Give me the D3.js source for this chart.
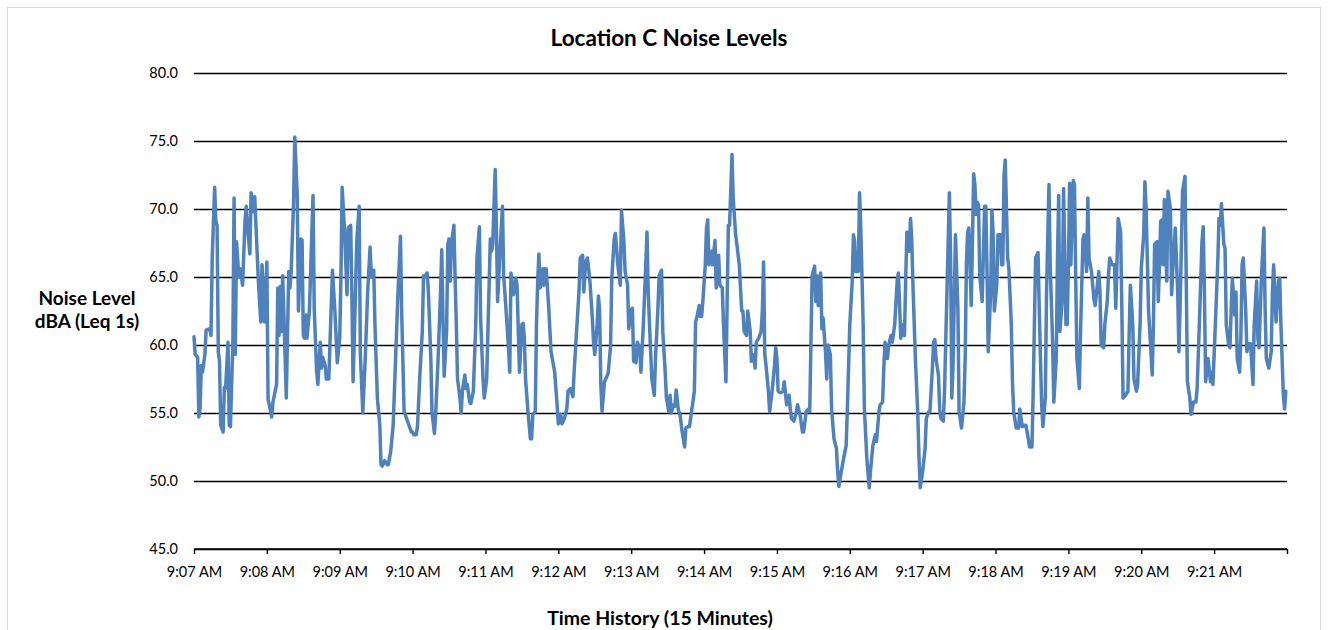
<!DOCTYPE html>
<html>
<head>
<meta charset="utf-8">
<script src="https://cdn.jsdelivr.net/npm/d3@7/dist/d3.min.js"></script>
<style>
  body { margin: 0; background: #fff; }
  svg { display: block; }
  text { font-family: Lato, "Open Sans", sans-serif; fill: #000; }
</style>
</head>
<body>
<svg id="chart" width="1328" height="630"></svg>
<script>
/*-------------------- Data --------------------*/
// [seconds after 9:07:00, dBA (Leq 1s)]

var trace0708 = [[0,60.6],[1,59.3],[3,59.1],[4,54.7],[5,55.3],[6,58.5],[7,58.0],[9,59.3],[10,61.1],[13,61.2],[14,60.7],[15,66.4],[17,71.6],[18,69.1],[19,68.8],[20,59.5],[21,58.8],[22,54.1],[24,53.6],[25,56.9],[26,56.8],[28,60.2],[29,54.1],[30,54.0],[32,60.2],[33,70.8],[34,59.3],[35,67.6],[37,65.0],[38,65.6],[40,64.4],[42,69.1],[43,70.2],[44,68.8],[46,66.7],[47,71.2],[49,69.8],[50,70.9],[53,64.7],[55,61.7],[56,65.9],[58,61.7],[60,66.1],[61,56.0],[62,55.6],[64,54.7],[65,55.8],[68,57.1],[69,64.2],[70,60.7],[71,64.3],[72,61.0],[73,65.1],[74,62.3],[76,56.1],[78,65.4],[79,64.2],[80,65.4],[82,70.5],[83,75.3],[85,71.0],[86,62.5],[88,67.8]];

var trace0809 = [[89,67.7],[90,60.7],[91,60.5],[92,62.2],[93,60.5],[95,62.5],[98,71.0],[99,62.7],[101,58.0],[102,57.1],[104,60.2],[105,58.3],[106,59.1],[108,58.5],[109,57.5],[111,57.5],[112,60.2],[114,65.5],[116,62.5],[118,58.7],[120,60.5],[121,65.1],[122,71.6],[124,68.3],[126,63.7],[127,68.6],[129,68.8],[130,63.7],[131,57.3],[133,63.9],[134,67.6],[136,70.2],[137,59.3],[139,55.0],[141,59.0],[143,63.9],[145,67.2],[146,65.0],[148,65.5],[149,61.5],[151,56.1],[153,54.1],[154,51.2],[155,51.1],[157,51.5],[159,51.2],[160,51.2],[162,52.2],[164,54.1],[166,59.0],[168,63.9],[170,68.0],[171,62.5],[173,55.1],[175,54.6],[177,54.1],[179,53.6]];

var trace0910 = [[180,53.6],[181,53.4],[183,53.4],[184,54.0],[186,57.8],[188,61.0],[189,65.1],[190,65.0],[192,65.3],[193,63.9],[195,59.0],[196,55.0],[198,53.5],[199,54.9],[201,59.0],[203,63.9],[204,67.0],[205,62.0],[206,57.7],[208,61.0],[209,67.4],[210,67.8],[211,64.7],[212,67.4],[214,68.8],[215,64.9],[216,61.5],[217,57.5],[219,56.1],[220,55.0],[221,56.6],[223,57.8],[224,56.8],[225,57.1],[227,55.8],[228,55.7],[230,56.6],[232,61.5],[233,66.4],[235,68.7],[236,62.0],[238,57.5],[239,56.1],[241,57.5],[242,61.0],[244,67.8],[245,66.9],[246,67.4],[248,72.9],[249,68.8],[250,63.2],[252,66.9],[254,70.2],[255,65.1],[257,62.5],[259,59.8],[260,58.0],[261,65.3],[263,63.7],[265,64.9],[266,64.4],[268,58.0],[270,61.5]];

var trace1112 = [[271,61.6],[272,60.5],[273,57.5],[275,55.1],[277,53.1],[278,53.1],[279,54.9],[281,55.1],[282,61.5],[283,64.7],[284,66.7],[285,64.2],[287,65.6],[288,64.4],[289,65.6],[290,65.6],[292,62.9],[294,59.5],[297,58.0],[299,55.6],[300,54.2],[302,54.9],[303,54.2],[305,54.6],[307,55.3],[308,56.6],[310,56.8],[312,56.2],[313,58.0],[315,61.0],[317,63.9],[318,66.4],[320,66.6],[321,63.9],[322,65.4],[323,66.2],[324,66.4],[326,64.7],[328,62.0],[329,60.2],[330,59.3],[332,61.5],[333,63.6],[334,62.5],[335,57.1],[336,55.1],[338,57.3],[339,57.5],[341,57.9],[343,59.9],[344,64.9],[346,67.8],[347,68.2],[349,65.9],[351,64.4],[352,69.9],[354,67.6],[355,65.4],[357,64.4],[358,61.2],[360,62.6]];

var trace1314 = [[361,62.7],[362,58.8],[364,58.7],[365,60.2],[367,59.8],[368,58.0],[370,61.5],[372,65.9],[373,68.3],[374,63.9],[376,59.5],[377,57.5],[379,56.3],[380,59.0],[382,62.7],[383,65.1],[385,65.5],[386,61.0],[388,58.0],[389,56.1],[391,55.1],[392,56.3],[393,55.0],[395,55.6],[396,55.5],[397,56.7],[399,55.1],[400,55.0],[402,53.6],[404,52.5],[405,53.9],[407,54.0],[408,54.0],[410,55.3],[412,56.6],[413,61.7],[414,62.0],[416,62.9],[417,62.1],[418,62.1],[419,63.2],[421,65.9],[422,68.6],[423,69.2],[424,65.9],[426,66.9],[427,65.9],[429,67.7],[430,64.2],[431,66.4],[432,66.6],[433,64.4],[435,64.2],[436,61.5],[438,57.3],[439,63.2],[440,68.8],[441,68.8],[443,74.0],[444,70.8],[446,68.1],[447,67.4],[449,65.9],[451,62.5]];

var trace1516 = [[452,62.5],[453,61.0],[455,60.7],[456,62.5],[458,61.0],[459,58.8],[461,59.3],[462,58.3],[463,60.2],[465,60.5],[467,61.0],[468,62.5],[469,66.1],[470,59.3],[471,58.5],[473,56.6],[474,55.1],[476,56.6],[478,58.5],[479,59.8],[480,59.0],[481,56.6],[483,56.5],[485,56.6],[486,57.3],[488,55.6],[490,56.3],[491,55.3],[492,54.6],[494,54.4],[496,55.1],[497,55.6],[499,54.9],[501,53.6],[502,53.6],[504,55.1],[506,55.3],[507,55.1],[508,60.2],[509,65.1],[511,65.8],[512,63.2],[513,65.1],[514,62.9],[516,65.3],[517,61.2],[518,62.0],[520,59.5],[521,57.5],[522,60.0],[524,59.3],[525,55.3],[527,53.1],[529,52.4],[530,50.7],[531,49.6],[533,50.7],[535,51.7],[537,52.6],[538,55.3],[540,61.5]];

var trace1617 = [[542,64.7],[543,68.1],[544,67.6],[545,65.4],[547,65.4],[548,71.2],[549,68.8],[551,61.5],[552,55.3],[554,51.7],[556,49.5],[557,50.7],[559,52.6],[561,53.4],[562,52.9],[564,55.1],[565,55.6],[567,55.8],[568,58.3],[569,60.2],[571,59.0],[572,60.0],[574,60.7],[575,60.2],[577,61.5],[579,64.7],[580,65.3],[582,60.5],[584,61.5],[585,60.7],[586,64.7],[587,68.3],[589,66.9],[590,69.3],[591,67.8],[592,64.4],[594,59.0],[596,54.9],[597,51.7],[598,49.5],[600,50.7],[602,52.4],[603,54.6],[605,55.1],[606,55.1],[608,58.3],[609,60.2],[610,60.4],[611,59.0],[613,57.8],[614,55.3],[615,54.6],[617,54.4],[618,56.6],[620,63.9],[622,71.2],[623,66.4],[624,56.1],[625,58.5],[627,68.1],[629,62.7],[630,55.1],[632,53.9]];

var trace1819 = [[634,55.8],[635,59.0],[636,65.9],[637,68.3],[638,68.6],[640,62.9],[641,67.6],[642,72.6],[643,71.8],[644,69.6],[645,70.5],[646,70.3],[647,65.1],[649,63.2],[651,70.2],[652,70.2],[653,65.4],[654,59.5],[656,63.9],[657,69.9],[658,68.3],[659,62.5],[661,64.4],[662,68.1],[664,68.1],[665,65.9],[666,65.9],[667,72.5],[668,73.6],[670,66.4],[671,65.6],[673,61.5],[674,57.1],[675,55.1],[677,53.9],[679,53.9],[680,55.3],[682,54.0],[684,54.1],[685,54.1],[687,53.1],[688,52.5],[690,52.5],[691,56.6],[692,61.5],[693,66.4],[695,66.8],[696,62.7],[697,59.0],[698,55.6],[699,54.0],[701,56.1],[702,63.9],[704,71.8],[705,65.9],[707,60.2],[708,55.8],[710,59.0],[711,66.4],[712,71.0],[713,61.0],[715,63.4],[716,71.5],[718,61.5],[719,61.5],[720,65.9],[721,71.9],[722,65.9]];

var trace1920 = [[724,72.1],[725,71.8],[726,65.1],[727,59.0],[729,56.8],[730,61.0],[732,67.8],[733,68.1],[735,65.4],[736,70.8],[737,66.4],[739,65.4],[741,63.4],[742,62.9],[743,63.7],[745,65.4],[746,63.9],[747,60.0],[749,59.8],[750,61.5],[752,63.2],[753,65.1],[754,66.4],[756,65.9],[758,65.9],[759,62.7],[761,69.3],[763,68.3],[764,62.7],[765,56.1],[767,56.3],[769,56.6],[770,60.7],[771,64.4],[773,61.5],[774,57.5],[776,56.6],[777,57.1],[779,61.5],[780,65.6],[782,68.1],[783,72.0],[784,70.0],[786,62.5],[788,59.5],[789,57.8],[790,61.5],[791,67.4],[793,67.6],[794,63.2],[795,65.9],[796,69.1],[797,69.2],[798,65.9],[799,70.7],[801,64.7],[802,71.3],[804,70.0],[805,63.7],[806,65.6],[808,68.6],[810,63.9],[811,59.5],[812,62.9]];

var trace2122 = [[814,71.3],[816,72.4],[817,65.1],[818,57.3],[820,56.1],[821,54.9],[823,55.8],[825,55.8],[826,56.8],[828,62.0],[830,67.6],[831,68.7],[832,63.9],[833,57.3],[835,59.0],[837,57.3],[838,58.0],[839,57.1],[841,61.5],[843,66.1],[844,69.3],[845,68.8],[846,70.4],[848,67.4],[849,67.1],[850,61.5],[852,60.0],[853,59.8],[854,62.5],[855,64.9],[857,62.2],[858,63.9],[859,59.0],[861,58.0],[862,60.5],[863,65.9],[864,66.4],[866,62.5],[867,59.5],[868,60.1],[870,60.1],[872,57.1],[873,61.5],[875,64.7],[876,60.5],[877,59.8],[879,65.1],[881,68.6],[882,62.5],[883,59.0],[885,58.3],[887,59.5],[888,63.9],[889,65.9],[891,61.7],[893,64.7],[894,64.9],[895,61.5],[897,56.3],[898,55.3],[899,56.6]];

var yTicks = [45, 50, 55, 60, 65, 70, 75, 80];
var xTickSeconds = [0, 60, 120, 180, 240, 300, 360, 420, 480, 540, 600, 660, 720, 780, 840, 900];
var xTickLabels = ["9:07 AM", "9:08 AM", "9:09 AM", "9:10 AM", "9:11 AM", "9:12 AM", "9:13 AM", "9:14 AM",
                   "9:15 AM", "9:16 AM", "9:17 AM", "9:18 AM", "9:19 AM", "9:20 AM", "9:21 AM", ""];

var chartTitle = "Location C Noise Levels";
var yTitle = ["Noise Level", "dBA (Leq 1s)"];
var xTitle = "Time History (15 Minutes)";

/*-------------------- Drawing --------------------*/

var readings = [].concat(trace0708, trace0809, trace0910, trace1112, trace1314,
                         trace1516, trace1617, trace1819, trace1920, trace2122);

var svg = d3.select("#chart");
var plot = {left: 194, right: 1287, top: 73, bottom: 549};

// light frame of the chart area
svg.append("rect")
    .attr("x", 7.5).attr("y", 7.5)
    .attr("width", 1313).attr("height", 650)
    .attr("fill", "#fff")
    .attr("stroke", "#d9d9d9")
    .attr("stroke-width", 1);

var xScale = d3.scaleLinear().domain([0, 900]).range([plot.left, plot.right]);
var yScale = d3.scaleLinear().domain([45, 80]).range([plot.bottom, plot.top]);

// horizontal gridlines + y labels
var yAxis = svg.append("g")
    .attr("transform", "translate(" + plot.left + ",0)")
    .call(d3.axisLeft(yScale)
        .tickValues(yTicks)
        .tickSize(-(plot.right - plot.left))
        .tickPadding(16)
        .tickFormat(d3.format(".1f")));
yAxis.select(".domain").remove();
yAxis.selectAll("line").attr("stroke", "#000").attr("stroke-width", 1.4);
yAxis.selectAll("text").style("font-size", "14.5px").attr("fill", "#000");

// x axis with minute ticks
var xAxis = svg.append("g")
    .attr("transform", "translate(0," + plot.bottom + ")")
    .call(d3.axisBottom(xScale)
        .tickValues(xTickSeconds)
        .tickSize(5)
        .tickPadding(13)
        .tickFormat((d, i) => xTickLabels[i]));
xAxis.select(".domain").attr("stroke", "#000").attr("stroke-width", 1.6).attr("d", "M" + plot.left + ",0H" + plot.right);
xAxis.selectAll("line").attr("stroke", "#000").attr("stroke-width", 1.4);
xAxis.selectAll("text").style("font-size", "14.5px").attr("fill", "#000");

// noise trace
var line = d3.line()
    .x(d => xScale(d[0]))
    .y(d => yScale(d[1]));

svg.append("path")
    .datum(readings)
    .attr("fill", "none")
    .attr("stroke", "#4f81bd")
    .attr("stroke-width", 3.5)
    .attr("stroke-linejoin", "round")
    .attr("stroke-linecap", "round")
    .attr("d", line);

// titles
svg.append("text")
    .attr("x", 669).attr("y", 46)
    .attr("text-anchor", "middle")
    .style("font-size", "22.5px").style("font-weight", "bold")
    .text(chartTitle);

svg.append("text")
    .attr("x", 87).attr("y", 305)
    .attr("text-anchor", "middle")
    .style("font-size", "19px").style("font-weight", "bold")
    .selectAll("tspan")
    .data(yTitle)
    .enter()
    .append("tspan")
    .attr("x", 87)
    .attr("dy", (d, i) => i === 0 ? 0 : 23)
    .text(d => d);

svg.append("text")
    .attr("x", 660).attr("y", 625)
    .attr("text-anchor", "middle")
    .style("font-size", "19.5px").style("font-weight", "bold")
    .text(xTitle);
</script>
</body>
</html>
